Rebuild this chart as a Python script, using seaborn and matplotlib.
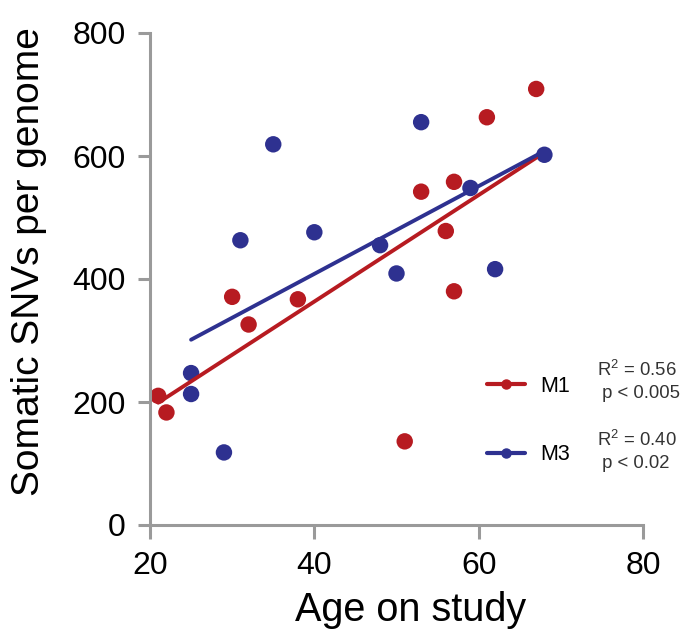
import numpy as np
import pandas as pd
import matplotlib
matplotlib.use("Agg")
import matplotlib.pyplot as plt
from matplotlib.lines import Line2D
import seaborn as sns

# Somatic SNV counts per genome against age, two groups
m1_age = [21, 22, 30, 32, 38, 51, 53, 56, 57, 57, 61, 67]
m1_snvs = [210, 183, 371, 326, 367, 136, 542, 478, 558, 380, 663, 709]
m3_age = [25, 25, 29, 31, 35, 40, 48, 50, 53, 59, 62, 68]
m3_snvs = [247, 213, 118, 463, 619, 476, 455, 409, 655, 548, 416, 602]

groups = ["M1", "M3"]
group_stats = ["R$^2$ = 0.56\n p < 0.005", "R$^2$ = 0.40\n p < 0.02"]
x_ticks = [20, 40, 60, 80]
y_ticks = [0, 200, 400, 600, 800]

colors = {"M1": "#B71B21", "M3": "#2E3190"}

df = pd.DataFrame({
    "age": m1_age + m3_age,
    "snvs": m1_snvs + m3_snvs,
    "group": ["M1"] * len(m1_age) + ["M3"] * len(m3_age),
})

sns.set_style("ticks")
plt.rcParams["font.family"] = ["Liberation Sans", "DejaVu Sans"]
plt.rcParams["mathtext.fontset"] = "custom"
plt.rcParams["mathtext.rm"] = "Liberation Sans"
plt.rcParams["mathtext.default"] = "regular"
plt.rcParams["text.color"] = "black"
plt.rcParams["axes.labelcolor"] = "black"
plt.rcParams["xtick.labelcolor"] = "black"
plt.rcParams["ytick.labelcolor"] = "black"

fig = plt.figure(figsize=(6.84, 6.34), dpi=100)
ax = fig.add_axes([150 / 684, 1 - 525 / 634, 493 / 684, 492 / 634])

# points first, then the least-squares lines on top
sns.scatterplot(data=df, x="age", y="snvs", hue="group", palette=colors,
                s=140, linewidth=0, legend=False, ax=ax, zorder=2)
for g in groups:
    sub = df[df["group"] == g]
    sns.regplot(data=sub, x="age", y="snvs", scatter=False, ci=None,
                color=colors[g], line_kws={"lw": 2.8, "zorder": 3}, ax=ax)

ax.set_xlim(20, 80)
ax.set_ylim(0, 800)
ax.set_xticks(x_ticks)
ax.set_yticks(y_ticks)
ax.set_xlabel("Age on study", fontsize=28.5, labelpad=7)
ax.set_ylabel("Somatic SNVs per genome", fontsize=28, labelpad=18)
ax.xaxis.label.set_x(0.529)
ax.yaxis.label.set_y(0.535)

for side in ["top", "right"]:
    ax.spines[side].set_visible(False)
for side in ["left", "bottom"]:
    ax.spines[side].set_color("#9a9a9a")
    ax.spines[side].set_linewidth(2.2)
ax.tick_params(axis="x", length=10, width=2.2, color="#9a9a9a",
               labelsize=23, pad=9)
ax.tick_params(axis="y", length=8.5, width=2.2, color="#9a9a9a",
               labelsize=23, pad=9)

handles = [Line2D([], [], color=colors[g], lw=3, marker="o", markersize=6.5)
           for g in groups]
ax.legend(handles, groups, loc="center left", bbox_to_anchor=(0.684, 0.212),
          frameon=False, fontsize=15.5, handlelength=1.75, handletextpad=0.7,
          labelspacing=2.2, borderpad=0, borderaxespad=0)

for txt, yfrac in zip(group_stats, [0.293, 0.150]):
    ax.text(0.907, yfrac, txt, transform=ax.transAxes, ha="left",
            va="center", multialignment="left", fontsize=13.3,
            color="#333333", linespacing=1.35)

fig.savefig("out.png", dpi=100)
